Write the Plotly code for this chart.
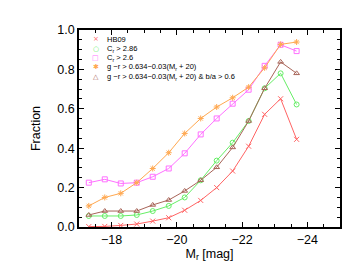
import plotly.graph_objects as go

mag = [-17.30, -17.79, -18.28, -18.77, -19.26, -19.75, -20.24, -20.73,
       -21.22, -21.71, -22.20, -22.69, -23.18, -23.67]
hb09 = [0.002, 0.003, 0.008, 0.015, 0.030, 0.047, 0.085, 0.135, 0.200, 0.284, 0.410, 0.572, 0.651, 0.445]
cr286 = [0.056, 0.056, 0.056, 0.061, 0.081, 0.107, 0.150, 0.237, 0.337, 0.428, 0.538, 0.704, 0.780, 0.622]
cr26 = [0.225, 0.242, 0.221, 0.225, 0.255, 0.297, 0.374, 0.470, 0.551, 0.626, 0.697, 0.818, 0.925, 0.893]
gr_cut = [0.107, 0.150, 0.171, 0.225, 0.297, 0.377, 0.475, 0.551, 0.609, 0.656, 0.710, 0.808, 0.927, 0.939]
gr_ba = [0.061, 0.081, 0.081, 0.081, 0.112, 0.137, 0.183, 0.237, 0.303, 0.404, 0.538, 0.704, 0.838, 0.780]

labels = ["HB09", "C<sub>r</sub> > 2.86", "C<sub>r</sub> > 2.6",
          "g −r > 0.634−0.03(M<sub>r</sub> + 20)",
          "g −r > 0.634−0.03(M<sub>r</sub> + 20) & b/a > 0.6"]
glyphs = ["×", "○", "□", "✱", "△"]
colors = ["#FF6464", "#66EE66", "#FF70FF", "#FFA850", "#A86458"]
symbols = ["x-thin-open", "circle-open", "square-open", "asterisk-open", "triangle-up-open"]
series = [hb09, cr286, cr26, gr_cut, gr_ba]

fig = go.Figure()
for ys, c, s, lab in zip(series, colors, symbols, labels):
    fig.add_trace(go.Scatter(
        x=mag, y=ys, mode="lines+markers", name=lab, showlegend=False,
        line=dict(color=c, width=1),
        marker=dict(symbol=s, size=5, color=c, line=dict(color=c, width=1)),
    ))

# compact legend drawn as text
row_y = [0.954, 0.906, 0.858, 0.810, 0.762]
for g, c, lab, yy in zip(glyphs, colors, labels, row_y):
    fig.add_annotation(x=0.065, y=yy, xref="paper", yref="paper", text=g,
                       showarrow=False, xanchor="center", yanchor="middle",
                       font=dict(size=7, color=c, family="DejaVu Sans"))
    fig.add_annotation(x=0.0996, y=yy, xref="paper", yref="paper", text=lab,
                       showarrow=False, xanchor="left", yanchor="middle",
                       font=dict(size=7.5, color="black", family="Liberation Sans"))

axis_common = dict(
    showline=True, linecolor="black", linewidth=1.5, mirror="allticks",
    ticks="inside", ticklen=5, tickcolor="black", tickwidth=1,
    showgrid=False, zeroline=False,
    tickfont=dict(size=12.5, color="black", family="Liberation Sans"),
)

fig.update_xaxes(range=[-17, -25], dtick=2, tick0=0,
                 minor=dict(dtick=0.5, ticks="inside", ticklen=3, tickcolor="black", showgrid=False),
                 title=dict(text="M<sub>r</sub> [mag]", standoff=0,
                            font=dict(size=12.5, color="black", family="Liberation Sans")),
                 **axis_common)
fig.update_yaxes(range=[0, 1], dtick=0.2, tick0=0, tickformat=".1f",
                 minor=dict(dtick=0.05, ticks="inside", ticklen=3, tickcolor="black", showgrid=False),
                 title=dict(text="Fraction", standoff=14,
                            font=dict(size=12.5, color="black", family="Liberation Sans")),
                 **axis_common)

fig.update_layout(width=353, height=265, margin=dict(l=71, r=21, t=22, b=46),
                  plot_bgcolor="white", paper_bgcolor="white", showlegend=False)

fig.write_html("out.html")
